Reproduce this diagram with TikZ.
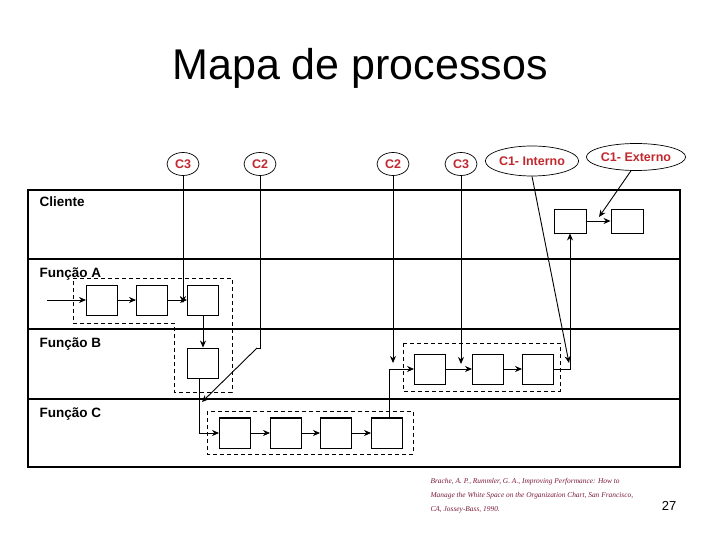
\documentclass[tikz,border=0pt]{standalone}
\usepackage{fontspec}
\setmainfont{Liberation Sans}
\newfontfamily\citefont{Liberation Serif}
\usetikzlibrary{
  shapes.geometric,
  arrows.meta,
  positioning,
  calc
}
\definecolor{CueRed}{HTML}{C0282E}
\definecolor{CiteWine}{HTML}{7A1A36}
\tikzset{
  % Customer oval
  cust/.style={
    ellipse, draw, line width=0.7pt, inner sep=0pt,
    minimum width=#1, minimum height=23pt,
    text=CueRed, font=\fontsize{12.5}{13}\selectfont\bfseries
  },
  % Process box
  proc/.style={
    rectangle, draw, line width=0.9pt, inner sep=0pt,
    minimum width=31pt, minimum height=30pt
  },
  % Arrow
  arr/.style={-{Stealth[length=7pt,width=6pt]}, line width=0.9pt},
  % Lane label
  lane/.style={anchor=base west, font=\fontsize{13.5}{14}\selectfont\bfseries},
  % Dashed group outline
  grp/.style={dash pattern=on 4pt off 3pt, line width=0.9pt},
  % Lane separator
  sep/.style={line width=1.1pt}
}

\begin{document}
\begin{tikzpicture}[x=1pt, y=-1pt]
  \useasboundingbox (0,0) rectangle (720,540);

  \node[anchor=base, font=\fontsize{43}{47}\selectfont] (title) at (360,80) {Mapa de processos};

  % lanes
  \draw[sep] (28,190) rectangle (680,467);
  \draw[sep] (28,259) -- (680,259);
  \draw[sep] (28,329) -- (680,329);
  \draw[line width=2.6pt] (28,399) -- (680,399);
  \node[lane] (lcli) at (36,207) {Cliente};
  \node[lane] (lfa)  at (36,277) {Função A};
  \node[lane] (lfb)  at (36,347) {Função B};
  \node[lane] (lfc)  at (36,417) {Função C};

  % customers
  \node[cust=32pt] (c3a) at (183,164) {C3};
  \node[cust=32pt] (c2a) at (260,164) {C2};
  \node[cust=32pt] (c2b) at (393,164) {C2};
  \node[cust=32pt] (c3b) at (461,164) {C3};
  \node[cust=72pt, minimum height=30pt] (cint) at (532,161) {C1- Interno};
  \node[cust=89pt, minimum height=27pt] (cext) at (636,157) {C1- Externo};

  % boxes
  \node[proc, minimum width=32pt, minimum height=24pt] (cl1) at (570,221) {};
  \node[proc, minimum width=32pt, minimum height=24pt] (cl2) at (627,221) {};
  \node[proc] (fa1) at (102,300) {};
  \node[proc] (fa2) at (152,300) {};
  \node[proc] (fa3) at (203,300) {};
  \node[proc] (fb1) at (203,363) {};
  \node[proc] (fb2) at (430,369) {};
  \node[proc] (fb3) at (488,369) {};
  \node[proc] (fb4) at (538,369) {};
  \node[proc] (fc1) at (235,433) {};
  \node[proc] (fc2) at (286,433) {};
  \node[proc] (fc3) at (336,433) {};
  \node[proc] (fc4) at (387,433) {};
  \draw[line width=1.8pt] (fb1.south west) -- (fb1.south east);
  \foreach \b in {fc1,fc2,fc3,fc4}
    \draw[line width=1.8pt] (\b.north west) -- (\b.north east);

  % groups
  \draw[grp] (73,278) -- (232,278) -- (232,392) -- (174,392) -- (174,323) -- (73,323) -- cycle;
  \draw[grp] (403,343) rectangle (560,391);
  \draw[grp] (207,411) rectangle (413,454);

  % free ends
  \coordinate (fain) at (47,300);
  \coordinate (bend) at (257,348);
  \coordinate (cjoin) at (202,402);
  \coordinate (jint) at (569,363);
  \coordinate (jext) at (599,217);

  % flow
  \draw[arr] (fain) -- (fa1);
  \draw[arr] (fa1) -- (fa2);
  \draw[arr] (fa2) -- (fa3);
  \draw[arr] (fa3) -- (fb1);
  \draw[arr] ([xshift=-4pt]fb1.south) |- (fc1.west);
  \draw[arr] (fc1) -- (fc2);
  \draw[arr] (fc2) -- (fc3);
  \draw[arr] (fc3) -- (fc4);
  \draw[arr] ([xshift=2pt]fc4.north) |- (fb2.west);
  \draw[arr] (fb2) -- (fb3);
  \draw[arr] (fb3) -- (fb4);
  \draw[arr] (fb4.east) -| (cl1.south);
  \draw[arr] (cl1) -- (cl2);

  % customer links
  \draw[arr] (c3a.south) -- ([yshift=-3pt]c3a.south |- fa3.west);
  \draw (c2a.south) -- (c2a.south |- bend) -- (bend);
  \draw[arr] (bend) -- (cjoin);
  \draw[arr] (c2b.south) -- ([yshift=6pt]c2b.south |- fb2.west);
  \draw[arr] (c3b.south) -- ([yshift=5pt]c3b.south |- fb3.west);
  \draw[arr] (cint.south) -- (jint);
  \draw[arr] (cext.250) -- (jext);

  % source and page
  \node[anchor=north west, align=left, text=CiteWine,
        font=\citefont\itshape\fontsize{7.4}{14}\selectfont] (cite) at (427,475)
    {Brache, A. P., Rummler, G. A., Improving Performance: How to\\
     Manage the White Space on the Organization Chart, San Francisco,\\
     CA, Jossey-Bass, 1990.};
  \node[anchor=base, font=\fontsize{13}{14}\selectfont] (page) at (669,510) {27};
\end{tikzpicture}
\end{document}
